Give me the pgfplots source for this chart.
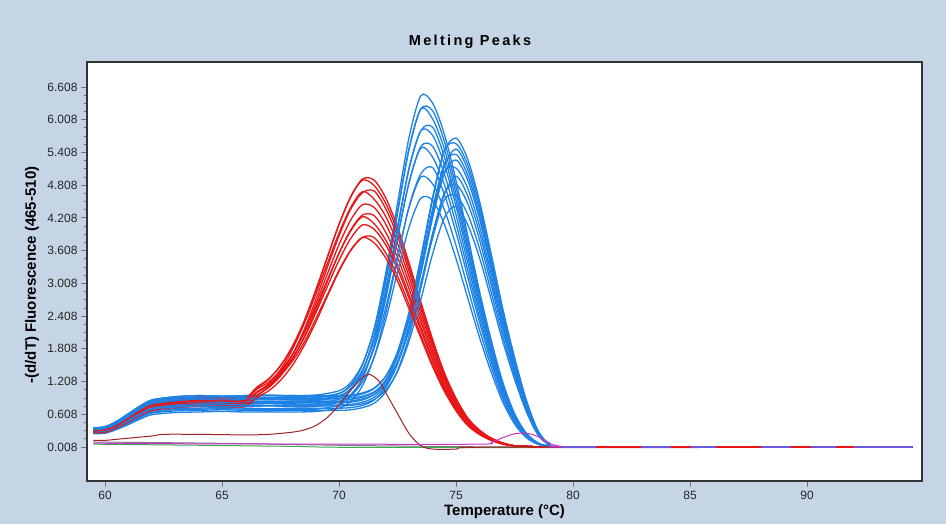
\documentclass[border=0pt]{standalone}
\usepackage{fontspec}
\setmainfont{Liberation Sans}
\usepackage{pgfplots}
\usepackage{pgfplotstable}
\pgfplotsset{compat=1.18}

\definecolor{bgc}{RGB}{197,213,229}
\definecolor{cblue}{RGB}{30,130,228}
\definecolor{cred}{RGB}{232,22,22}
\definecolor{cdred}{RGB}{160,35,35}
\definecolor{cmag}{RGB}{200,50,200}
\definecolor{cviolet}{RGB}{110,90,220}
\definecolor{cgray}{RGB}{120,120,130}
\definecolor{cgreen}{RGB}{60,170,80}

% red group, peak near 71.4
\pgfplotstableread{
T    r1   r2   r3   r4   r5   r6   r7   r8   r9   r10
59.5 0.28 0.31 0.26 0.32 0.29 0.27 0.32 0.30 0.27 0.30
60   0.30 0.33 0.28 0.34 0.30 0.29 0.33 0.31 0.28 0.32
60.5 0.38 0.41 0.35 0.43 0.39 0.37 0.42 0.40 0.36 0.40
61   0.50 0.55 0.47 0.57 0.51 0.48 0.56 0.53 0.47 0.53
61.5 0.62 0.69 0.59 0.72 0.64 0.61 0.70 0.66 0.59 0.67
62   0.72 0.79 0.68 0.83 0.74 0.70 0.81 0.77 0.68 0.77
63   0.78 0.85 0.73 0.89 0.80 0.76 0.87 0.82 0.74 0.83
64   0.80 0.88 0.75 0.92 0.82 0.78 0.90 0.85 0.76 0.86
65   0.81 0.87 0.76 0.91 0.83 0.77 0.89 0.86 0.75 0.85
66   0.80 0.88 0.75 0.92 0.82 0.78 0.90 0.85 0.76 0.86
66.5 1.01 1.09 0.95 1.11 1.01 0.96 1.07 1.02 0.92 1.01
67   1.17 1.25 1.11 1.26 1.15 1.10 1.20 1.14 1.04 1.13
67.5 1.43 1.50 1.35 1.50 1.38 1.31 1.41 1.35 1.23 1.32
68   1.79 1.85 1.69 1.83 1.69 1.62 1.70 1.63 1.50 1.58
68.5 2.27 2.31 2.15 2.26 2.11 2.02 2.09 2.00 1.86 1.92
69   2.85 2.88 2.70 2.80 2.62 2.51 2.56 2.46 2.29 2.35
69.5 3.48 3.49 3.30 3.37 3.18 3.04 3.07 2.95 2.77 2.80
70   4.09 4.09 3.88 3.93 3.72 3.56 3.56 3.43 3.23 3.25
70.5 4.60 4.59 4.37 4.40 4.17 3.99 3.97 3.83 3.61 3.62
71   4.92 4.90 4.67 4.69 4.45 4.26 4.23 4.08 3.85 3.85
71.5 4.90 4.80 4.70 4.55 4.40 4.25 4.10 4.00 3.85 3.75
72   4.57 4.47 4.37 4.23 4.09 3.94 3.80 3.71 3.56 3.47
72.5 4.04 3.96 3.87 3.74 3.61 3.48 3.35 3.27 3.14 3.05
73   3.37 3.30 3.22 3.12 3.01 2.90 2.79 2.72 2.61 2.53
73.5 2.66 2.60 2.54 2.46 2.37 2.29 2.20 2.14 2.05 2.00
74   1.98 1.93 1.89 1.83 1.76 1.70 1.63 1.59 1.52 1.48
74.5 1.37 1.34 1.31 1.27 1.22 1.18 1.13 1.10 1.06 1.03
75   0.90 0.88 0.86 0.83 0.80 0.77 0.74 0.72 0.69 0.67
75.5 0.54 0.53 0.52 0.50 0.48 0.46 0.45 0.43 0.41 0.40
76   0.32 0.31 0.30 0.29 0.28 0.27 0.26 0.25 0.24 0.24
76.5 0.17 0.17 0.17 0.16 0.15 0.15 0.14 0.14 0.13 0.13
77   0.08 0.08 0.08 0.08 0.07 0.07 0.07 0.07 0.06 0.06
77.5 0.03 0.03 0.03 0.03 0.03 0.03 0.03 0.03 0.03 0.03
78   0.02 0.02 0.02 0.02 0.02 0.02 0.02 0.02 0.02 0.02
80   0.01 0.01 0.01 0.01 0.01 0.01 0.01 0.01 0.01 0.01
94.5 0.01 0.01 0.01 0.01 0.01 0.01 0.01 0.01 0.01 0.01
}\redtab

% blue groups: a (peak near 73.7), b (peak near 75.0)
\pgfplotstableread{
T    a1   a2   a3   a4   a5   a6   a7   a8   a9   a10  b1   b2   b3   b4   b5   b6   b7   b8   b9   b10
59.5 0.34 0.30 0.36 0.27 0.32 0.29 0.35 0.25 0.33 0.30 0.31 0.35 0.27 0.33 0.30 0.36 0.26 0.32 0.34 0.29
60   0.36 0.32 0.38 0.28 0.34 0.30 0.37 0.26 0.35 0.31 0.33 0.37 0.29 0.35 0.31 0.38 0.27 0.34 0.36 0.30
60.5 0.45 0.40 0.48 0.35 0.43 0.38 0.46 0.33 0.44 0.39 0.41 0.47 0.36 0.44 0.39 0.48 0.34 0.42 0.45 0.38
61   0.59 0.52 0.62 0.46 0.55 0.49 0.60 0.42 0.57 0.51 0.53 0.60 0.47 0.57 0.51 0.62 0.44 0.55 0.59 0.49
61.5 0.72 0.64 0.76 0.56 0.68 0.60 0.74 0.52 0.70 0.62 0.66 0.74 0.58 0.70 0.62 0.76 0.54 0.67 0.72 0.61
62   0.83 0.74 0.87 0.64 0.78 0.69 0.85 0.60 0.81 0.72 0.75 0.86 0.66 0.80 0.72 0.87 0.63 0.77 0.83 0.70
63   0.88 0.78 0.93 0.69 0.83 0.74 0.90 0.64 0.86 0.76 0.80 0.91 0.71 0.85 0.76 0.93 0.67 0.82 0.88 0.74
64   0.90 0.80 0.95 0.70 0.85 0.75 0.92 0.65 0.88 0.78 0.82 0.93 0.72 0.87 0.78 0.95 0.68 0.84 0.90 0.76
65   0.91 0.79 0.94 0.71 0.86 0.74 0.93 0.66 0.87 0.79 0.81 0.94 0.73 0.86 0.79 0.94 0.69 0.83 0.91 0.75
66   0.90 0.80 0.95 0.70 0.85 0.75 0.92 0.65 0.88 0.78 0.82 0.93 0.72 0.87 0.78 0.95 0.68 0.84 0.90 0.76
67   0.89 0.81 0.95 0.69 0.84 0.76 0.91 0.65 0.89 0.77 0.83 0.92 0.71 0.88 0.77 0.96 0.67 0.85 0.89 0.77
68   0.90 0.80 0.95 0.70 0.85 0.75 0.92 0.65 0.88 0.78 0.82 0.93 0.72 0.87 0.78 0.95 0.68 0.84 0.90 0.76
69   0.91 0.80 0.96 0.70 0.86 0.75 0.93 0.66 0.88 0.78 0.82 0.93 0.72 0.87 0.78 0.95 0.68 0.84 0.90 0.76
70   0.99 0.89 1.04 0.78 0.93 0.83 0.99 0.72 0.95 0.84 0.82 0.93 0.72 0.87 0.78 0.95 0.68 0.84 0.90 0.76
70.5 1.15 1.05 1.19 0.93 1.08 0.97 1.13 0.85 1.07 0.95 0.83 0.94 0.73 0.88 0.79 0.96 0.69 0.85 0.91 0.77
71   1.51 1.39 1.53 1.26 1.40 1.27 1.42 1.13 1.33 1.20 0.87 0.98 0.77 0.92 0.83 1.00 0.73 0.89 0.94 0.80
71.5 2.18 2.05 2.16 1.88 2.00 1.85 1.98 1.66 1.82 1.65 0.97 1.08 0.87 1.01 0.92 1.09 0.81 0.97 1.02 0.88
72   3.21 3.04 3.13 2.82 2.91 2.73 2.82 2.47 2.57 2.35 1.21 1.31 1.10 1.24 1.14 1.30 1.02 1.16 1.21 1.05
72.5 4.48 4.29 4.34 4.00 4.05 3.83 3.87 3.47 3.51 3.22 1.67 1.76 1.53 1.67 1.56 1.70 1.41 1.54 1.57 1.39
73   5.70 5.48 5.50 5.12 5.14 4.87 4.87 4.43 4.41 4.05 2.42 2.50 2.25 2.37 2.25 2.37 2.05 2.16 2.16 1.96
73.5 6.45 6.21 6.21 5.81 5.81 5.52 5.49 5.02 4.96 4.57 3.44 3.50 3.24 3.34 3.19 3.28 2.93 3.01 2.97 2.72
74   6.31 6.17 6.02 5.87 5.72 5.52 5.32 5.13 4.83 4.53 4.55 4.59 4.30 4.38 4.21 4.27 3.89 3.93 3.84 3.55
74.5 5.74 5.61 5.47 5.33 5.19 5.01 4.82 4.64 4.36 4.09 5.43 5.45 5.15 5.20 5.02 5.05 4.64 4.66 4.54 4.21
75   4.89 4.77 4.65 4.53 4.42 4.26 4.10 3.94 3.70 3.46 5.67 5.57 5.47 5.37 5.27 5.12 4.97 4.82 4.62 4.42
75.5 3.88 3.79 3.69 3.60 3.50 3.38 3.25 3.12 2.93 2.74 5.28 5.18 5.09 4.99 4.90 4.75 4.61 4.47 4.27 4.08
76   2.87 2.80 2.73 2.66 2.58 2.49 2.39 2.30 2.16 2.02 4.52 4.44 4.35 4.27 4.19 4.06 3.94 3.81 3.65 3.48
76.5 1.97 1.92 1.87 1.82 1.77 1.71 1.64 1.57 1.48 1.38 3.55 3.48 3.41 3.35 3.28 3.18 3.08 2.98 2.85 2.72
77   1.19 1.16 1.13 1.10 1.07 1.03 0.99 0.95 0.89 0.83 2.54 2.49 2.44 2.39 2.34 2.27 2.20 2.13 2.03 1.94
77.5 0.62 0.61 0.59 0.58 0.56 0.54 0.52 0.50 0.47 0.43 1.65 1.62 1.59 1.55 1.52 1.47 1.43 1.38 1.32 1.25
78   0.26 0.26 0.25 0.24 0.24 0.23 0.22 0.21 0.20 0.18 0.87 0.86 0.84 0.82 0.80 0.78 0.75 0.73 0.69 0.66
78.5 0.08 0.08 0.08 0.08 0.08 0.07 0.07 0.07 0.06 0.06 0.31 0.30 0.30 0.29 0.28 0.27 0.27 0.26 0.24 0.23
79   0.02 0.02 0.02 0.02 0.02 0.02 0.02 0.02 0.02 0.02 0.07 0.07 0.07 0.07 0.07 0.07 0.06 0.06 0.06 0.06
80   0.01 0.01 0.01 0.01 0.01 0.01 0.01 0.01 0.01 0.01 0.01 0.01 0.01 0.01 0.01 0.01 0.01 0.01 0.01 0.01
94.5 0.01 0.01 0.01 0.01 0.01 0.01 0.01 0.01 0.01 0.01 0.01 0.01 0.01 0.01 0.01 0.01 0.01 0.01 0.01 0.01
}\bluetab

\newcommand{\bl}[1]{\addplot[cblue] table[x=T, y=#1] {\bluetab};}
\newcommand{\rd}[1]{\addplot[cred] table[x=T, y=#1] {\redtab};}

\begin{document}
\begin{tikzpicture}
\fill[bgc] (0,0) rectangle (946pt,524pt);
\begin{axis}[
  at={(87pt,43pt)}, anchor=south west,
  scale only axis, width=835pt, height=419pt,
  xmin=59.23, xmax=94.91, ymin=-0.615, ymax=7.066,
  axis background/.style={fill=white},
  axis line style={line width=1.3pt, black!80},
  xtick={60,65,70,75,80,85,90},
  xticklabels={60,65,70,75,80,85,90},
  ytick={0.008,0.608,1.208,1.808,2.408,3.008,3.608,4.208,4.808,5.408,6.008,6.608},
  yticklabels={0.008,0.608,1.208,1.808,2.408,3.008,3.608,4.208,4.808,5.408,6.008,6.608},
  minor y tick num=3,
  xtick pos=left, ytick pos=left,
  tick align=outside,
  major tick length=6pt, minor tick length=3pt,
  tick style={line width=0.8pt, black!55},
  ticklabel style={font=\fontsize{12}{14}\selectfont, text=black!85},
  xticklabel style={yshift=-1pt},
  every axis plot/.append style={line width=1.3pt, smooth},
]
\addplot[cgray, line width=1pt] coordinates {(59.5,0.10) (62,0.09) (66,0.07) (70,0.04) (74,0.02) (78,0.01) (94.5,0.01)};
\addplot[cgreen, line width=1pt] coordinates {(59.5,0.06) (64,0.04) (68,0.02) (72,0.0) (94.5,0.0)};
% interleave the groups so neither colour covers the other everywhere
\bl{a1}\bl{b1}\rd{r1}\bl{a2}\bl{b2}\rd{r2}\bl{a3}\bl{b3}\rd{r3}
\bl{a4}\bl{b4}\rd{r4}\bl{a5}\bl{b5}\rd{r5}\bl{a6}\bl{b6}\rd{r6}
\bl{a7}\bl{b7}\rd{r7}\bl{a8}\bl{b8}\rd{r8}\bl{a9}\bl{b9}\rd{r9}
\bl{a10}\bl{b10}\rd{r10}
\addplot[cdred, line width=1pt] coordinates {
  (59.5,0.13) (60,0.13) (61,0.17) (62,0.21) (62.5,0.24) (64,0.24) (66,0.23) (67,0.24)
  (68,0.28) (68.5,0.32) (69,0.40) (69.5,0.55) (70,0.78) (70.5,1.05) (71,1.28)
  (71.3,1.34) (71.7,1.22) (72,1.00) (72.5,0.62) (73,0.25) (73.5,0.03) (74,-0.03)
  (75,-0.03) (75.5,0.0) (80,0.01) (94.5,0.01)};
\addplot[cmag, line width=1pt] coordinates {
  (59.5,0.08) (62,0.07) (70,0.06) (76,0.06) (76.5,0.09) (77,0.18) (77.5,0.25)
  (78,0.26) (78.5,0.20) (79,0.07) (79.5,0.02) (80,0.01) (94.5,0.01)};
\addplot[cviolet, line width=1.5pt, sharp plot] coordinates {(79.5,0.01) (94.5,0.01)};
\addplot[cred, line width=1.5pt, sharp plot, dash pattern=on 45pt off 30pt on 20pt off 25pt] coordinates {(81,0.01) (92,0.01)};
\end{axis}
\node[font=\fontsize{14.5}{16}\selectfont\bfseries\addfontfeatures{LetterSpace=16}] at (470pt,482pt) {Melting Peaks};
\node[font=\fontsize{15}{17}\selectfont\bfseries] at (504.5pt,12pt) {Temperature (°C)};
\node[font=\fontsize{15}{17}\selectfont\bfseries, rotate=90] at (32pt,249pt) {-(d/dT) Fluorescence (465-510)};
\pgfresetboundingbox
\path[use as bounding box] (0,0) rectangle (946pt,524pt);
\end{tikzpicture}
\end{document}
